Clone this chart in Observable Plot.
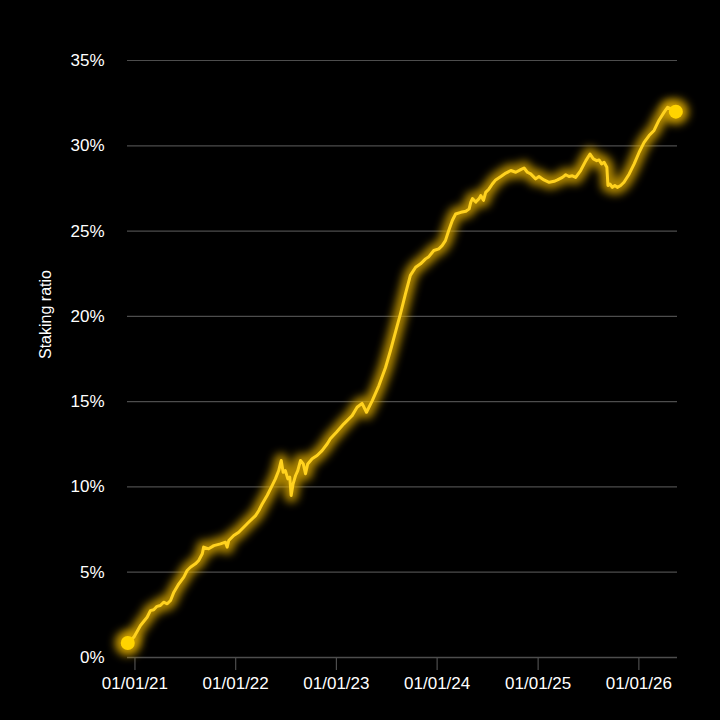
<!DOCTYPE html>
<html>
<head>
<meta charset="utf-8">
<script src="https://cdn.jsdelivr.net/npm/d3@7"></script>
<script src="https://cdn.jsdelivr.net/npm/@observablehq/plot@0.6"></script>
<style>
  html, body { margin: 0; padding: 0; background: #000; }
  #chart { width: 720px; height: 720px; }
</style>
</head>
<body>
<div id="chart"></div>
<script>
const dates = [
  "2020-12-06","2020-12-28","2021-01-21","2021-02-14","2021-02-26","2021-03-10","2021-03-22","2021-04-03","2021-04-15","2021-04-28",
  "2021-05-10","2021-05-22","2021-06-09","2021-06-27","2021-07-09","2021-07-21","2021-08-08","2021-08-20","2021-09-02","2021-09-07",
  "2021-09-25","2021-10-14","2021-11-07","2021-11-25","2021-12-01","2021-12-07","2021-12-25","2022-01-12","2022-01-30","2022-02-17",
  "2022-03-14","2022-03-26","2022-04-07","2022-04-25","2022-05-13","2022-05-25","2022-06-06","2022-06-15","2022-06-22","2022-06-30",
  "2022-07-09","2022-07-16","2022-07-21","2022-07-28","2022-08-06","2022-08-14","2022-08-24","2022-09-03","2022-09-11","2022-09-19",
  "2022-10-05","2022-10-23","2022-11-10","2022-11-29","2022-12-10","2023-01-01","2023-01-28","2023-02-27","2023-03-17","2023-04-04",
  "2023-04-20","2023-05-11","2023-06-04","2023-06-28","2023-07-16","2023-08-03","2023-08-21","2023-09-08","2023-09-26","2023-10-15",
  "2023-11-02","2023-11-20","2023-12-02","2023-12-20","2024-01-07","2024-01-19","2024-01-31","2024-02-12","2024-02-25","2024-03-08",
  "2024-03-27","2024-04-14","2024-04-26","2024-05-02","2024-05-08","2024-05-20","2024-06-01","2024-06-07","2024-06-17","2024-06-25",
  "2024-07-07","2024-07-19","2024-07-31","2024-08-19","2024-09-06","2024-09-24","2024-10-12","2024-10-30","2024-11-11","2024-11-23",
  "2024-12-05","2024-12-23","2025-01-04","2025-01-22","2025-02-10","2025-02-28","2025-03-12","2025-03-30","2025-04-11","2025-04-23",
  "2025-05-05","2025-05-17","2025-06-04","2025-06-23","2025-07-08","2025-07-20","2025-08-01","2025-08-10","2025-08-19","2025-08-28",
  "2025-09-07","2025-09-11","2025-09-18","2025-09-27","2025-10-06","2025-10-15","2025-10-27","2025-11-08","2025-11-27","2025-12-15",
  "2026-01-02","2026-01-20","2026-02-07","2026-02-25","2026-03-15","2026-04-02","2026-04-15","2026-04-27","2026-05-15"
];
const ratios = [
  0.85,1.19,1.88,2.36,2.75,2.80,3.00,3.05,3.24,3.15,
  3.34,3.83,4.32,4.71,5.10,5.29,5.49,5.69,6.08,6.47,
  6.37,6.56,6.66,6.76,6.47,6.86,7.15,7.34,7.64,7.93,
  8.32,8.62,9.00,9.50,10.08,10.47,10.96,11.55,10.86,10.96,
  10.47,10.57,9.50,10.18,10.67,10.96,11.55,11.35,10.77,11.35,
  11.65,11.84,12.13,12.53,12.82,13.20,13.70,14.18,14.67,14.90,
  14.38,15.06,15.94,17.00,18.00,19.07,20.15,21.30,22.40,22.88,
  23.08,23.37,23.50,23.86,23.96,24.15,24.44,25.03,25.62,26.00,
  26.10,26.16,26.30,26.70,26.90,26.70,26.90,27.08,26.80,27.27,
  27.47,27.76,28.00,28.20,28.40,28.55,28.45,28.60,28.70,28.45,
  28.35,28.06,28.20,28.00,27.86,27.92,28.00,28.15,28.30,28.20,
  28.24,28.15,28.55,29.13,29.52,29.23,29.13,29.17,28.94,29.03,
  28.74,27.67,27.76,27.56,27.67,27.56,27.67,27.86,28.35,28.94,
  29.62,30.20,30.60,30.90,31.50,31.96,32.26,32.16,32.00
];
const yTicks = [0, 0.05, 0.10, 0.15, 0.20, 0.25, 0.30, 0.35];
const xTicks = ["2021-01-01","2022-01-01","2023-01-01","2024-01-01","2025-01-01","2026-01-01"];
const xDomain = ["2020-12-05","2026-05-21"];
const yLabel = "Staking ratio";

const data = dates.map((d, i) => ({date: new Date(d), ratio: ratios[i] / 100}));
const ends = [data[0], data[data.length - 1]];

const chart = Plot.plot({
  width: 720,
  height: 720,
  marginLeft: 127,
  marginRight: 43,
  marginTop: 60,
  marginBottom: 63,
  style: {background: "#000", color: "#fff", fontFamily: "'Liberation Sans', Arial, sans-serif", fontSize: "17px"},
  x: {type: "utc", domain: xDomain.map(d => new Date(d))},
  y: {domain: [0, 0.35]},
  marks: [
    Plot.gridY(yTicks, {stroke: "#4d4d4d", strokeOpacity: 1, strokeWidth: 1.2}),
    Plot.axisY(yTicks, {tickSize: 0, tickPadding: 23, tickFormat: d => Math.round(d * 100) + "%", label: null, fontSize: 17}),
    Plot.axisX(xTicks.map(d => new Date(d)), {tickSize: 13, stroke: "#4d4d4d", strokeWidth: 1.2, tickPadding: 6, tickFormat: d3.utcFormat("%m/%d/%y"), label: null, fontSize: 17}),
    Plot.ruleY([0], {stroke: "#4d4d4d", strokeWidth: 1.5}),
    Plot.text([yLabel], {frameAnchor: "left", rotate: -90, dx: -82, fill: "#fff", fontSize: 16}),
    Plot.lineY(data, {x: "date", y: "ratio", stroke: "#d9a800", strokeWidth: 14, strokeOpacity: 0.8}),
    Plot.dot(ends, {x: "date", y: "ratio", r: 13, fill: "#d9a800", fillOpacity: 0.8}),
    Plot.lineY(data, {x: "date", y: "ratio", stroke: "#ffd21f", strokeWidth: 3}),
    Plot.dot(ends, {x: "date", y: "ratio", r: 7, fill: "#ffd400"})
  ]
});
document.getElementById("chart").appendChild(chart);

// glow filter
const svg = d3.select(chart);
const defs = svg.insert("defs", ":first-child");
const f = defs.append("filter").attr("id", "glowblur").attr("x", "-20%").attr("y", "-20%").attr("width", "140%").attr("height", "140%");
f.append("feGaussianBlur").attr("stdDeviation", 4);
const lines = chart.querySelectorAll("g[aria-label='line']");
const dots = chart.querySelectorAll("g[aria-label='dot']");
if (lines.length) lines[0].setAttribute("filter", "url(#glowblur)");
if (dots.length) dots[0].setAttribute("filter", "url(#glowblur)");
</script>
</body>
</html>
